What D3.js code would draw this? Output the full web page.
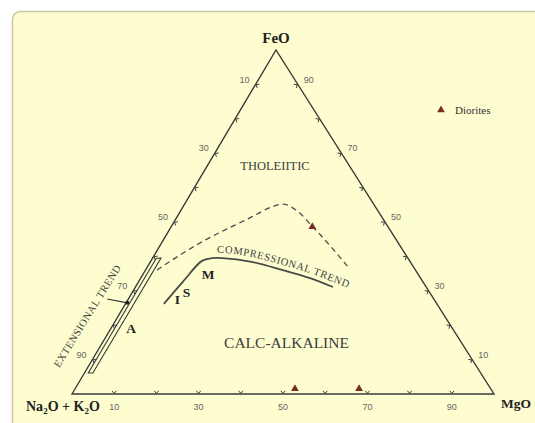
<!DOCTYPE html>
<html>
<head>
<meta charset="utf-8">
<script src="https://cdn.jsdelivr.net/npm/d3@7"></script>
<style>
  html, body { margin: 0; padding: 0; background: #ffffff; }
  svg { display: block; }
</style>
</head>
<body>
<svg id="chart" width="535" height="423"></svg>
<script>
// AFM ternary diagram. Every point is [A, F, M] in percent:
// A = Na2O + K2O, F = FeO, M = MgO.

const tickValues = [10, 20, 30, 40, 50, 60, 70, 80, 90];
const labelledTicks = [10, 30, 50, 70, 90];

const seriesName = "Diorites";
const diorites = [
  [17.9, 48.6, 33.4],
  [46.4, 1.5, 52.1],
  [31.2, 1.5, 67.3]
];

// Tholeiitic / calc-alkaline divide (dashed)
const tholeiiticDivide = [
  [61.2, 36.0, 2.7],
  [47.0, 43.9, 9.1],
  [31.4, 51.2, 17.4],
  [24.5, 54.4, 21.1],
  [21.5, 55.2, 23.3],
  [19.3, 53.5, 27.2],
  [17.8, 48.5, 33.7],
  [16.4, 42.2, 41.4],
  [15.5, 36.9, 47.6]
];

// Compressional trend (I, S, M granitoids)
const compressionalTrend = [
  [64.7, 26.2, 9.1],
  [56.9, 32.6, 10.5],
  [49.2, 38.7, 12.1],
  [46.4, 39.5, 14.1],
  [44.0, 39.5, 16.5],
  [37.9, 38.5, 23.6],
  [31.4, 36.0, 32.6],
  [26.2, 33.7, 40.1],
  [22.1, 31.1, 46.8]
];

// Extensional trend (A-type): a narrow band along the A–F side
const extensionalTrend = [
  [59.7, 39.5, 0.9],
  [93.0, 6.1, 0.9],
  [91.9, 6.1, 2.0],
  [58.5, 39.5, 2.0]
];

// ---------------------------------------------------------------
const svg = d3.select("#chart");
const serif = "'Liberation Serif', 'Times New Roman', serif";
const sans = "'Liberation Sans', Arial, sans-serif";

// card background
svg.append("rect")
  .attr("x", 12.5).attr("y", 11.5)
  .attr("width", 540).attr("height", 440)
  .attr("rx", 8)
  .attr("fill", "#fdfdd0")
  .attr("stroke", "#c9c7a8")
  .attr("stroke-width", 1.5);

// triangle corners (A bottom-left, F top, M bottom-right)
const corner = { A: [72, 394], F: [276, 50], M: [494, 394] };

// barycentric projection, built from linear scales over each corner weight
const wx = d3.scaleLinear().domain([0, 100]);
const project = ([a, f, m]) => {
  const s = a + f + m;
  const k = 100 / s;
  const x = wx.range([0, corner.A[0]])(a * k) + wx.range([0, corner.F[0]])(f * k) + wx.range([0, corner.M[0]])(m * k);
  const y = wx.range([0, corner.A[1]])(a * k) + wx.range([0, corner.F[1]])(f * k) + wx.range([0, corner.M[1]])(m * k);
  return [x, y];
};

const ink = "#3a3a3a";

// triangle outline
svg.append("path")
  .attr("d", d3.line()([project([100, 0, 0]), project([0, 100, 0]), project([0, 0, 100])]) + "Z")
  .attr("fill", "none")
  .attr("stroke", ink)
  .attr("stroke-width", 1.4)
  .attr("stroke-linejoin", "miter");

const centroid = project([33.3, 33.3, 33.4]);

// edges: where each tick sits, and where its label goes
const edges = [
  { at: t => [t, 100 - t, 0], dx: -11, dy: -5 },   // F → A, labels give A
  { at: t => [0, t, 100 - t], dx: 11, dy: -5 },    // right side, labels give F
  { at: t => [100 - t, 0, t], dx: 0, dy: 13 }      // A → M, labels give M
];

const tickG = svg.append("g");
edges.forEach(e => {
  tickValues.forEach(t => {
    const p = project(e.at(t));
    const p2 = project(e.at(t + 1));
    let ux = p2[0] - p[0], uy = p2[1] - p[1];
    const ul = Math.hypot(ux, uy); ux /= ul; uy /= ul;
    let nx = -uy, ny = ux;
    if ((centroid[0] - p[0]) * nx + (centroid[1] - p[1]) * ny < 0) { nx = -nx; ny = -ny; }
    const pts = [
      [p[0] + nx * 3.2 - ux * 2.2, p[1] + ny * 3.2 - uy * 2.2],
      [p[0] + nx * 0.6, p[1] + ny * 0.6],
      [p[0] + nx * 3.2 + ux * 2.2, p[1] + ny * 3.2 + uy * 2.2]
    ];
    tickG.append("path")
      .attr("d", d3.line()(pts))
      .attr("fill", "none")
      .attr("stroke", ink)
      .attr("stroke-width", 1);
    if (labelledTicks.includes(t)) {
      tickG.append("text")
        .attr("x", p[0] + e.dx).attr("y", p[1] + e.dy)
        .attr("dy", "0.35em")
        .attr("text-anchor", "middle")
        .attr("font-family", sans)
        .attr("font-size", 9)
        .attr("fill", "#666")
        .text(t);
    }
  });
});

// corner names
const cornerText = svg.append("g")
  .attr("font-family", serif)
  .attr("font-weight", "bold")
  .attr("fill", "#222");
cornerText.append("text")
  .attr("x", 276).attr("y", 43)
  .attr("text-anchor", "middle")
  .attr("font-size", 15)
  .text("FeO");
cornerText.append("text")
  .attr("x", 501).attr("y", 408)
  .attr("font-size", 13.5)
  .text("MgO");
const alk = cornerText.append("text")
  .attr("x", 26).attr("y", 411)
  .attr("font-size", 14);
alk.append("tspan").text("Na");
alk.append("tspan").attr("font-size", 9).attr("dy", 3).text("2");
alk.append("tspan").attr("dy", -3).text("O + K");
alk.append("tspan").attr("font-size", 9).attr("dy", 3).text("2");
alk.append("tspan").attr("dy", -3).text("O");

// field names
svg.append("text")
  .attr("x", 275).attr("y", 170)
  .attr("text-anchor", "middle")
  .attr("font-family", serif).attr("font-size", 12.5)
  .attr("fill", "#3c3c3c")
  .text("THOLEIITIC");
svg.append("text")
  .attr("x", 286.5).attr("y", 348)
  .attr("text-anchor", "middle")
  .attr("font-family", serif).attr("font-size", 15.5)
  .attr("fill", "#3c3c3c")
  .text("CALC-ALKALINE");

// dashed divide
const curve = d3.line().curve(d3.curveMonotoneX);
svg.append("path")
  .attr("d", curve(tholeiiticDivide.map(project)))
  .attr("fill", "none")
  .attr("stroke", "#4a4a4a")
  .attr("stroke-width", 1.3)
  .attr("stroke-dasharray", "5.5,4");

// compressional trend
const compPts = compressionalTrend.map(project);
svg.append("path")
  .attr("d", d3.line().curve(d3.curveCatmullRom.alpha(0.5))(compPts))
  .attr("fill", "none")
  .attr("stroke", "#4a4a4a")
  .attr("stroke-width", 1.8);

// label baseline running just above the trend
const base = compPts.slice(3).map(([x, y]) => [x, y - 5]);
const last = base[base.length - 1], prev = base[base.length - 2];
const ext = 17 / (last[0] - prev[0]);
base.push([last[0] + 17, last[1] + (last[1] - prev[1]) * ext]);
svg.append("path")
  .attr("id", "compBase")
  .attr("d", curve(base))
  .attr("fill", "none")
  .attr("stroke", "none");
svg.append("text")
  .attr("font-family", serif).attr("font-size", 10.5)
  .attr("fill", "#3c3c3c")
  .append("textPath")
  .attr("href", "#compBase")
  .attr("startOffset", 5)
  .attr("textLength", 136)
  .attr("lengthAdjust", "spacing")
  .text("COMPRESSIONAL TREND");

// extensional trend band
svg.append("path")
  .attr("d", d3.line()(extensionalTrend.map(project)) + "Z")
  .attr("fill", "none")
  .attr("stroke", "#3a3a3a")
  .attr("stroke-width", 1.1);

// arrow pointing at the band
const arrowFrom = project([77.4, 27.6, -5.0]);
const arrowTo = project([73.2, 26.5, 0.3]);
svg.append("line")
  .attr("x1", arrowFrom[0]).attr("y1", arrowFrom[1])
  .attr("x2", arrowTo[0]).attr("y2", arrowTo[1])
  .attr("stroke", "#333").attr("stroke-width", 1.1);
svg.append("circle")
  .attr("cx", arrowTo[0]).attr("cy", arrowTo[1])
  .attr("r", 2).attr("fill", "#222");

svg.append("text")
  .attr("transform", "translate(87,316) rotate(-58.3)")
  .attr("text-anchor", "middle")
  .attr("dy", "0.35em")
  .attr("font-family", serif).attr("font-size", 10.5)
  .attr("fill", "#3c3c3c")
  .attr("textLength", 118)
  .attr("lengthAdjust", "spacing")
  .text("EXTENSIONAL TREND");

// granitoid type letters
const letters = svg.append("g")
  .attr("font-family", serif).attr("font-weight", "bold")
  .attr("font-size", 13.5).attr("fill", "#222")
  .attr("text-anchor", "middle");
letters.append("text").attr("x", 208).attr("y", 279).text("M");
letters.append("text").attr("x", 186.5).attr("y", 296.5).text("S");
letters.append("text").attr("x", 177.5).attr("y", 303.5).text("I");
letters.append("text").attr("x", 131).attr("y", 333).text("A");

// diorite samples
const marker = d3.symbol().type(d3.symbolTriangle).size(26);
svg.append("g").selectAll("path")
  .data(diorites)
  .join("path")
  .attr("transform", d => `translate(${project(d)})`)
  .attr("d", marker)
  .attr("fill", "#7b2b25");

// legend
const legend = svg.append("g").attr("transform", "translate(441,110)");
legend.append("path").attr("d", marker).attr("fill", "#7b2b25");
legend.append("text")
  .attr("x", 14).attr("y", 3.5)
  .attr("font-family", serif).attr("font-size", 11)
  .attr("fill", "#333")
  .text(seriesName);
</script>
</body>
</html>
